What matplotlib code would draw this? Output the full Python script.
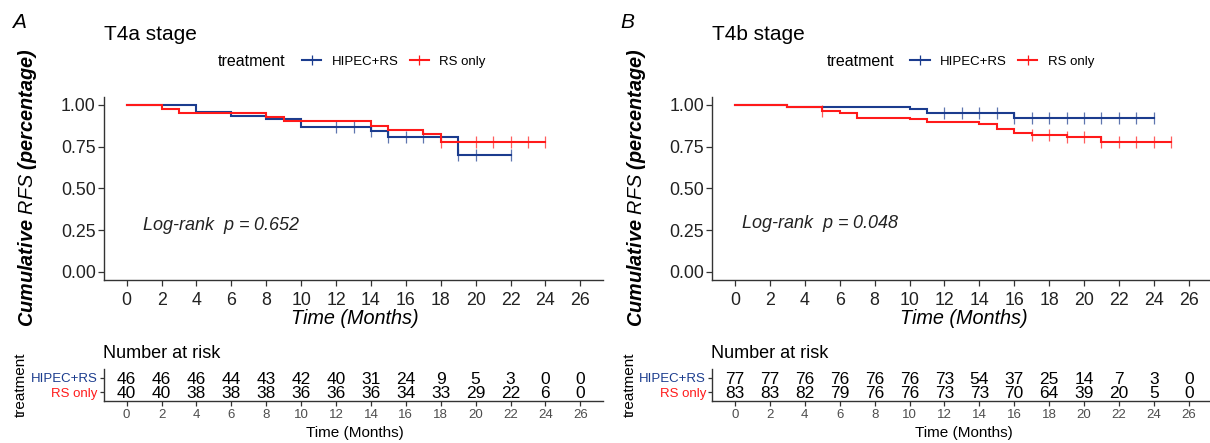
import matplotlib
matplotlib.use("Agg")
import matplotlib.pyplot as plt
from matplotlib.lines import Line2D

plt.rcParams['font.family'] = ['Liberation Sans', 'DejaVu Sans']
plt.rcParams['mathtext.fontset'] = 'custom'
plt.rcParams['mathtext.rm'] = 'Liberation Sans'
plt.rcParams['mathtext.it'] = 'Liberation Sans:italic'
plt.rcParams['mathtext.bf'] = 'Liberation Sans:bold'
plt.rcParams['mathtext.bfit'] = 'Liberation Sans:italic:bold'

# ---------------- data ----------------
groups = ["HIPEC+RS", "RS only"]
colors = ["#1B3C8E", "#FF1A1A"]
time_ticks = list(range(0, 27, 2))

# Panel A: T4a stage
a_hipec_t = [0, 4, 6, 8, 10, 14, 15, 19, 22]
a_hipec_s = [1.0, 0.960, 0.934, 0.914, 0.870, 0.844, 0.810, 0.698, 0.698]
a_hipec_cens = [12, 13, 14, 15, 16, 17, 19, 20, 22]
a_rs_t = [0, 2, 3, 8, 9, 14, 15, 17, 18, 24]
a_rs_s = [1.0, 0.978, 0.950, 0.926, 0.902, 0.876, 0.850, 0.826, 0.776, 0.776]
a_rs_cens = [18, 20, 21, 22, 23, 24]
a_risk_hipec = [46, 46, 46, 44, 43, 42, 40, 31, 24, 9, 5, 3, 0, 0]
a_risk_rs = [40, 40, 38, 38, 38, 36, 36, 36, 34, 33, 29, 22, 6, 0]
a_pval = "Log-rank  $\\it{p}$ = 0.652"

# Panel B: T4b stage
b_hipec_t = [0, 3, 10, 11, 16, 24]
b_hipec_s = [1.0, 0.987, 0.975, 0.950, 0.924, 0.924]
b_hipec_cens = [12, 13, 14, 15, 16, 17, 18, 19, 20, 21, 22, 23, 24]
b_rs_t = [0, 3, 5, 6, 7, 10, 11, 14, 15, 16, 17, 19, 21, 25]
b_rs_s = [1.0, 0.988, 0.964, 0.950, 0.924, 0.914, 0.896, 0.884, 0.856, 0.834,
          0.820, 0.810, 0.780, 0.780]
b_rs_cens = [5, 17, 18, 19, 20, 21, 22, 23, 24, 25]
b_risk_hipec = [77, 77, 76, 76, 76, 76, 73, 54, 37, 25, 14, 7, 3, 0]
b_risk_rs = [83, 83, 82, 79, 76, 76, 73, 73, 70, 64, 39, 20, 5, 0]
b_pval = "Log-rank  $\\it{p}$ = 0.048"

panels = [
    dict(letter="A", title="T4a stage",
         curves=[(a_hipec_t, a_hipec_s, a_hipec_cens), (a_rs_t, a_rs_s, a_rs_cens)],
         risk=[a_risk_hipec, a_risk_rs], pval=a_pval, pxy=(0.9, 0.28)),
    dict(letter="B", title="T4b stage",
         curves=[(b_hipec_t, b_hipec_s, b_hipec_cens), (b_rs_t, b_rs_s, b_rs_cens)],
         risk=[b_risk_hipec, b_risk_rs], pval=b_pval, pxy=(0.33, 0.29)),
]

# ---------------- layout ----------------
W, H = 1210, 443
fig = plt.figure(figsize=(W / 100, H / 100), dpi=100)


def px_axes(l, t, r, b):
    return fig.add_axes([l / W, 1 - b / H, (r - l) / W, (b - t) / H])


def fx(x):
    return x / W


def fy(y):
    return 1 - y / H


dark = "#222222"
offsets = [0, 608.4]
for p, off in zip(panels, offsets):
    left = 104 + off
    right = min(603 + off, 1210)
    ax = px_axes(left, 96.6, right, 280.3)
    xmax = -1.3 + 28.6 * (right - left) / 499.0
    for (t, s, cens), col in zip(p["curves"], colors):
        ax.step(t, s, where="post", color=col, lw=1.5, solid_joinstyle="miter")
        # censor marks at survival level
        cs = []
        for c in cens:
            val = s[0]
            for ti, si in zip(t, s):
                if ti <= c:
                    val = si
            cs.append(val)
        ax.plot(cens, cs, ls="none", marker="|", ms=8, mew=0.9, color=col, alpha=0.7)
    ax.set_xlim(-1.3, xmax)
    ax.set_ylim(-0.05, 1.05)
    ax.set_xticks(time_ticks)
    ax.set_yticks([0, 0.25, 0.5, 0.75, 1.0])
    ax.set_yticklabels(["0.00", "0.25", "0.50", "0.75", "1.00"])
    for sp in ["top", "right"]:
        ax.spines[sp].set_visible(False)
    for sp in ["left", "bottom"]:
        ax.spines[sp].set_linewidth(1.0)
        ax.spines[sp].set_color("#333333")
    ax.tick_params(axis="both", labelsize=12.8, length=4, width=0.9, color="#333333",
                   labelcolor=dark)
    ax.tick_params(axis="x", pad=4.5)
    ax.tick_params(axis="y", pad=2)
    ax.text(p["pxy"][0], p["pxy"][1], p["pval"], fontsize=13, style="italic",
            ha="left", va="center", color=dark)

    # y label
    fig.text(fx(28 + off), fy(188), r"$\mathbfit{Cumulative}$ $\mathit{RFS}$ $\mathbfit{(percentage)}$",
             rotation=90, ha="center", va="center", fontsize=14.3, color="black")
    # x label
    fig.text(fx(355 + off), fy(318), "Time (Months)", style="italic", fontsize=14.3,
             ha="center", va="center", color="black")
    # panel letter and title
    fig.text(fx(12 + off), fy(23), p["letter"], style="italic", fontsize=15,
             ha="left", va="center")
    fig.text(fx(104 + off), fy(40), p["title"], fontsize=15, ha="left", va="baseline")
    # legend
    fig.text(fx(218 + off), fy(61.7), "treatment", fontsize=11.5, ha="left", va="center")
    handles = [Line2D([], [], color=c, lw=1.5, marker="|", ms=7, mew=0.9) for c in colors]
    ax.legend(handles, groups, ncol=2, loc="center left",
              bbox_to_anchor=(fx(302 + off), fy(61.7)), bbox_transform=fig.transFigure,
              frameon=False, fontsize=9.5, handlelength=1.45, handletextpad=0.8,
              columnspacing=0.85, borderpad=0, borderaxespad=0, numpoints=1)

    # risk table
    rax = px_axes(left, 369.3, right, 400.7)
    rax.set_xlim(-1.3, xmax)
    rax.set_ylim(0.4, 2.6)
    for row, (vals, ypos) in enumerate(zip(p["risk"], [2, 1])):
        for tt, v in zip(time_ticks, vals):
            rax.text(tt, ypos, str(v), ha="center", va="center_baseline", fontsize=12.5,
                     color="black")
    rax.set_xticks(time_ticks)
    rax.set_yticks([2, 1])
    rax.set_yticklabels(groups)
    for lbl, c in zip(rax.get_yticklabels(), colors):
        lbl.set_color(c)
    for sp in ["top", "right"]:
        rax.spines[sp].set_visible(False)
    for sp in ["left", "bottom"]:
        rax.spines[sp].set_linewidth(1.0)
        rax.spines[sp].set_color("#333333")
    rax.tick_params(axis="x", labelsize=9.5, length=3.5, width=0.9, pad=2.5,
                    color="#333333", labelcolor="#4D4D4D")
    rax.tick_params(axis="y", labelsize=9.5, length=3, width=0.9, pad=1.5,
                    color="#333333")
    fig.text(fx(103 + off), fy(353), "Number at risk", fontsize=13, ha="left", va="center")
    fig.text(fx(21 + off), fy(385), "treatment", fontsize=11, rotation=90,
             ha="center", va="center")
    fig.text(fx(355 + off), fy(433), "Time (Months)", fontsize=11, ha="center",
             va="center")

fig.savefig("out.png", dpi=100)
